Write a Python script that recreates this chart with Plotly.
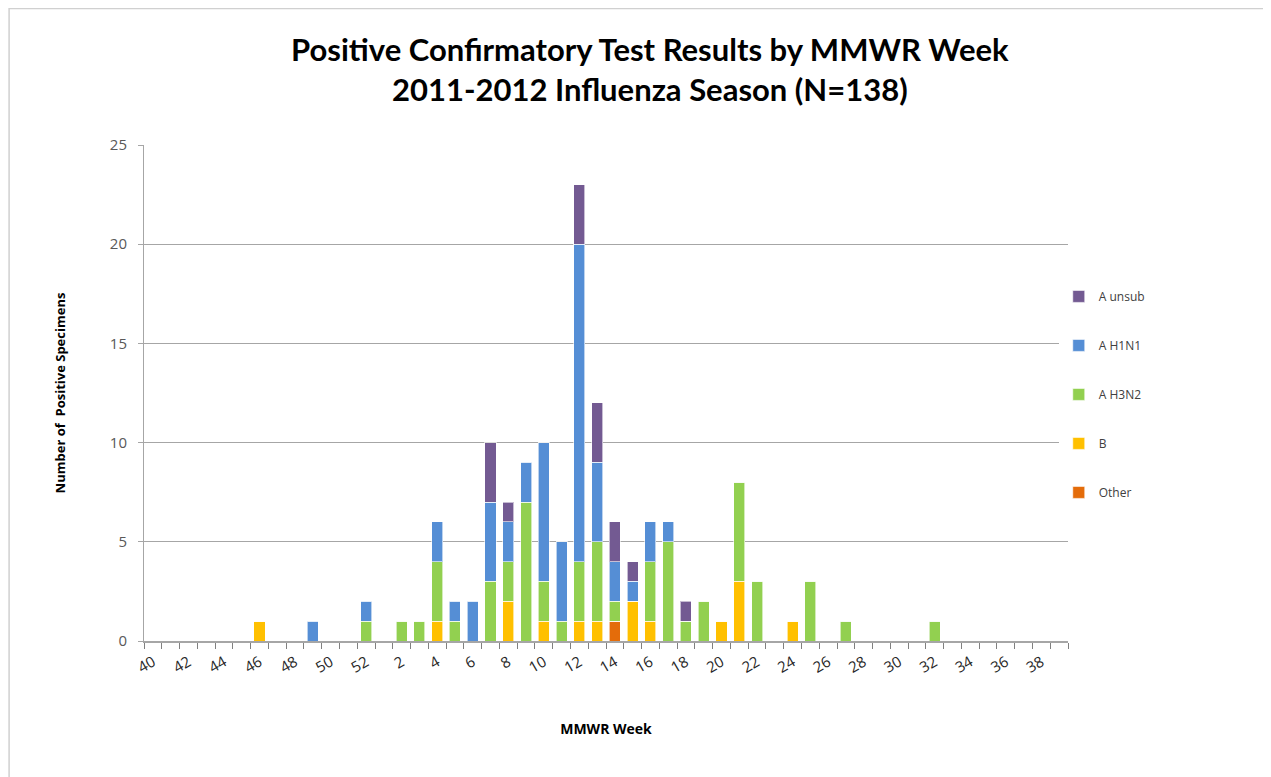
import plotly.graph_objects as go

weeks = [str(w) for w in range(40, 53)] + [str(w) for w in range(1, 40)]

# counts per week (in order of `weeks`)
other = [0]*52
b_vals = [0]*52
h3n2 = [0]*52
h1n1 = [0]*52
a_unsub = [0]*52

def setv(arr, week, val):
    arr[weeks.index(str(week))] = val

B_DATA = {46: 1, 4: 1, 8: 2, 10: 1, 12: 1, 13: 1, 15: 2, 16: 1, 20: 1, 21: 3, 24: 1}
H3N2_DATA = {52: 1, 2: 1, 3: 1, 4: 3, 5: 1, 7: 3, 8: 2, 9: 7, 10: 2, 11: 1, 12: 3, 13: 4,
             14: 1, 16: 3, 17: 5, 18: 1, 19: 2, 21: 5, 22: 3, 25: 3, 27: 1, 32: 1}
H1N1_DATA = {49: 1, 52: 1, 4: 2, 5: 1, 6: 2, 7: 4, 8: 2, 9: 2, 10: 7, 11: 4, 12: 16, 13: 4,
             14: 2, 15: 1, 16: 2, 17: 1}
UNSUB_DATA = {7: 3, 8: 1, 12: 3, 13: 3, 14: 2, 15: 1, 18: 1}
OTHER_DATA = {14: 1}

for k, v in B_DATA.items(): setv(b_vals, k, v)
for k, v in H3N2_DATA.items(): setv(h3n2, k, v)
for k, v in H1N1_DATA.items(): setv(h1n1, k, v)
for k, v in UNSUB_DATA.items(): setv(a_unsub, k, v)
for k, v in OTHER_DATA.items(): setv(other, k, v)

# bottom-to-top stacking order; legend rank puts A unsub on top
series = [
    ("Other", other, "#E46C0A", 5),
    ("B", b_vals, "#FFC000", 4),
    ("A H3N2", h3n2, "#92D050", 3),
    ("A H1N1", h1n1, "#558ED5", 2),
    ("A unsub", a_unsub, "#735A92", 1),
]

xpos = list(range(len(weeks)))
tick_labels = weeks[::2]
tick_pos = xpos[::2]

fig = go.Figure()
for name, vals, color, rank in series:
    fig.add_trace(go.Bar(
        x=xpos, y=vals, name=name, legendgroup=name, legendrank=rank,
        marker=dict(color=color, line=dict(color="rgba(255,255,255,0.6)", width=1)),
        hovertemplate=name + ": %{y}<extra></extra>",
    ))

fig.update_layout(
    barmode="stack",
    bargap=0.38,
    width=1271, height=777,
    paper_bgcolor="white", plot_bgcolor="white",
    margin=dict(l=136, r=211, t=137, b=144, autoexpand=False),
    title=dict(
        text="Positive Confirmatory Test Results by MMWR Week<br>2011-2012 Influenza Season (N=138)",
        x=0.505, xanchor="center", y=0.932, yanchor="top",
        font=dict(family="Lato", size=31, color="black", weight="bold"),
    ),
    font=dict(family="Open Sans", color="#595959"),
    legend=dict(
        x=0.99, xanchor="left", y=0.724, yanchor="top",
        traceorder="grouped", tracegroupgap=30,
        font=dict(family="Open Sans", size=12, color="#404040"),
        itemwidth=30,
    ),
    showlegend=True,
    shapes=[dict(type="rect", xref="paper", yref="paper",
                 x0=-0.146, x1=1.5, y0=-1, y1=1.275,
                 line=dict(color="#D0D0D0", width=1.5), layer="below")],
)

fig.update_xaxes(
    automargin=False,
    range=[-0.5, 51.5],
    tickmode="array", tickvals=tick_pos, ticktext=tick_labels,
    tickangle=-30, ticks="", ticklabelstandoff=5,
    tickfont=dict(family="Open Sans", size=15, color="#262626"),
    showline=True, linecolor="#A6A6A6", linewidth=1.5,
    showgrid=False, zeroline=False,
    minor=dict(tickvals=[i - 0.5 for i in range(53)], ticks="outside", ticklen=6,
               tickcolor="#808080", showgrid=False),
    title=dict(text="<b>MMWR Week</b>", font=dict(family="Open Sans", size=14, color="black"),
               standoff=48),
)
fig.update_yaxes(
    automargin=False,
    range=[0, 25], dtick=5, tick0=0,
    ticks="outside", ticklen=5, tickcolor="#A6A6A6", ticklabelstandoff=8,
    tickfont=dict(family="Open Sans", size=15, color="#595959"),
    showline=True, linecolor="#A6A6A6", linewidth=1,
    showgrid=True, gridcolor="#A6A6A6", gridwidth=1, zeroline=False,
    title=dict(text="<b>Number of  Positive Specimens</b>",
               font=dict(family="Open Sans", size=13, color="black"), standoff=41),
)

fig.write_html("out.html")
